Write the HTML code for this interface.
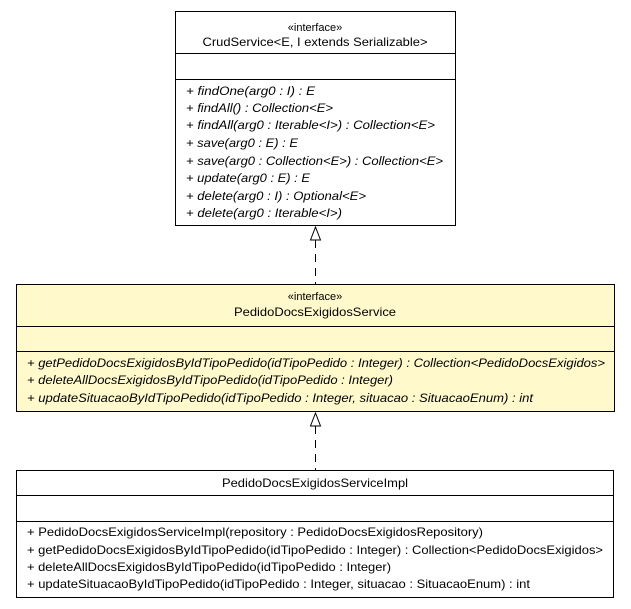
<!DOCTYPE html>
<html><head><meta charset="utf-8"><style>
html,body{margin:0;padding:0;background:#fff;}
svg{display:block;}
text{font-family:"Liberation Sans",sans-serif;font-size:12px;fill:#000;}
.i{font-style:italic;}
</style></head><body>
<svg width="631" height="609" viewBox="0 0 631 609" xmlns="http://www.w3.org/2000/svg">
<rect x="0" y="0" width="631" height="609" fill="#fff"/>
<!-- Box1 -->
<rect x="175.5" y="11.5" width="280" height="214" fill="#fff" stroke="#000"/>
<line x1="175" y1="53.5" x2="456" y2="53.5" stroke="#000"/>
<line x1="175" y1="79.5" x2="456" y2="79.5" stroke="#000"/>
<text x="315" y="31" text-anchor="middle" style="font-size:11px">«interface»</text>
<text x="315" y="46" text-anchor="middle" textLength="225" lengthAdjust="spacingAndGlyphs">CrudService&lt;E, I extends Serializable&gt;</text>
<g class="i">
<text x="186" y="95" textLength="129" lengthAdjust="spacingAndGlyphs">+ findOne(arg0 : I) : E</text>
<text x="186" y="112" textLength="147" lengthAdjust="spacingAndGlyphs">+ findAll() : Collection&lt;E&gt;</text>
<text x="186" y="129" textLength="249" lengthAdjust="spacingAndGlyphs">+ findAll(arg0 : Iterable&lt;I&gt;) : Collection&lt;E&gt;</text>
<text x="186" y="147" textLength="112" lengthAdjust="spacingAndGlyphs">+ save(arg0 : E) : E</text>
<text x="186" y="165" textLength="257" lengthAdjust="spacingAndGlyphs">+ save(arg0 : Collection&lt;E&gt;) : Collection&lt;E&gt;</text>
<text x="186" y="182" textLength="124" lengthAdjust="spacingAndGlyphs">+ update(arg0 : E) : E</text>
<text x="186" y="200" textLength="180" lengthAdjust="spacingAndGlyphs">+ delete(arg0 : I) : Optional&lt;E&gt;</text>
<text x="186" y="217" textLength="156" lengthAdjust="spacingAndGlyphs">+ delete(arg0 : Iterable&lt;I&gt;)</text>
</g>
<!-- arrow 1 -->
<line x1="315.5" y1="240" x2="315.5" y2="284" stroke="#000" stroke-dasharray="8,6"/>
<polygon points="315.5,227 310.5,240 320.5,240" fill="#fff" stroke="#000"/>
<!-- Box2 -->
<rect x="16.5" y="284.5" width="598" height="127" fill="#fff9cc" stroke="#000"/>
<line x1="16" y1="326.5" x2="615" y2="326.5" stroke="#000"/>
<line x1="16" y1="351.5" x2="615" y2="351.5" stroke="#000"/>
<text x="315" y="300" text-anchor="middle" style="font-size:11px">«interface»</text>
<text x="315" y="316" text-anchor="middle" textLength="162" lengthAdjust="spacingAndGlyphs">PedidoDocsExigidosService</text>
<g class="i">
<text x="27" y="367" textLength="578" lengthAdjust="spacingAndGlyphs">+ getPedidoDocsExigidosByIdTipoPedido(idTipoPedido : Integer) : Collection&lt;PedidoDocsExigidos&gt;</text>
<text x="27" y="384" textLength="366" lengthAdjust="spacingAndGlyphs">+ deleteAllDocsExigidosByIdTipoPedido(idTipoPedido : Integer)</text>
<text x="27" y="402" textLength="506" lengthAdjust="spacingAndGlyphs">+ updateSituacaoByIdTipoPedido(idTipoPedido : Integer, situacao : SituacaoEnum) : int</text>
</g>
<!-- arrow 2 -->
<line x1="315.5" y1="426" x2="315.5" y2="470" stroke="#000" stroke-dasharray="8,6"/>
<polygon points="315.5,413 310.5,426 320.5,426" fill="#fff" stroke="#000"/>
<!-- Box3 -->
<rect x="16.5" y="470.5" width="597" height="127" fill="#fff" stroke="#000"/>
<line x1="16" y1="495.5" x2="614" y2="495.5" stroke="#000"/>
<line x1="16" y1="521.5" x2="614" y2="521.5" stroke="#000"/>
<text x="315" y="487" text-anchor="middle" textLength="186" lengthAdjust="spacingAndGlyphs">PedidoDocsExigidosServiceImpl</text>
<text x="27" y="536" textLength="456" lengthAdjust="spacingAndGlyphs">+ PedidoDocsExigidosServiceImpl(repository : PedidoDocsExigidosRepository)</text>
<text x="27" y="554" textLength="576" lengthAdjust="spacingAndGlyphs">+ getPedidoDocsExigidosByIdTipoPedido(idTipoPedido : Integer) : Collection&lt;PedidoDocsExigidos&gt;</text>
<text x="27" y="571" textLength="364" lengthAdjust="spacingAndGlyphs">+ deleteAllDocsExigidosByIdTipoPedido(idTipoPedido : Integer)</text>
<text x="27" y="588" textLength="503" lengthAdjust="spacingAndGlyphs">+ updateSituacaoByIdTipoPedido(idTipoPedido : Integer, situacao : SituacaoEnum) : int</text>
</svg>
</body></html>
